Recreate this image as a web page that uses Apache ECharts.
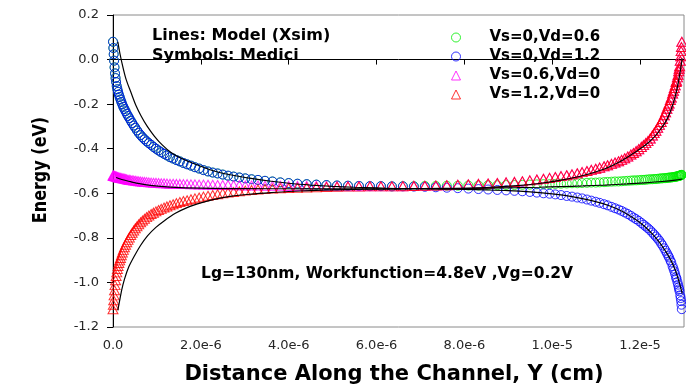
<!DOCTYPE html>
<html>
<head>
<meta charset="utf-8">
<script src="https://cdn.jsdelivr.net/npm/echarts@6/dist/echarts.min.js"></script>
<style>
  html, body { margin: 0; padding: 0; background: #fff; }
  #chart { width: 686px; height: 385px; }
</style>
</head>
<body>
<div id="chart"></div>
<script>
// Positions along the channel are in units of 1e-6 cm; energies in eV.

// Simulation mesh, source half and drain half (refined towards the contacts)
const meshSource = [0, 0.008, 0.016, 0.025, 0.035, 0.046, 0.058, 0.071, 0.085, 0.1,
  0.116, 0.133, 0.151, 0.17, 0.19, 0.212, 0.235, 0.26, 0.286, 0.313,
  0.342, 0.372, 0.404, 0.437, 0.472, 0.508, 0.546, 0.586, 0.628, 0.672,
  0.718, 0.766, 0.816, 0.868, 0.922, 0.978, 1.037, 1.098, 1.162, 1.228,
  1.297, 1.369, 1.444, 1.522, 1.603, 1.687, 1.775, 1.866, 1.961, 2.06,
  2.163, 2.27, 2.382, 2.498, 2.619, 2.745, 2.876, 3.012, 3.154, 3.3,
  3.46, 3.63, 3.81, 4.0, 4.2, 4.41, 4.63, 4.86, 5.1, 5.35,
  5.6, 5.85, 6.1, 6.35];
const meshDrain = [6.6, 6.85, 7.1, 7.35, 7.6, 7.85, 8.09, 8.32, 8.54, 8.75,
  8.95, 9.14, 9.32, 9.49, 9.65, 9.8, 9.94, 10.07, 10.2, 10.33,
  10.45, 10.57, 10.68, 10.79, 10.89, 10.99, 11.08, 11.18, 11.26, 11.35,
  11.43, 11.51, 11.58, 11.65, 11.72, 11.79, 11.85, 11.91, 11.97, 12.03,
  12.08, 12.13, 12.18, 12.23, 12.28, 12.32, 12.36, 12.4, 12.44, 12.48,
  12.51, 12.55, 12.58, 12.61, 12.64, 12.66, 12.69, 12.71, 12.74, 12.76,
  12.78, 12.8, 12.82, 12.83, 12.85, 12.865, 12.88, 12.89, 12.9, 12.915,
  12.925, 12.935, 12.942, 12.95];

// Medici results (symbols)
// Source half with Vs=0 (same for both Vs=0 cases)
const mediciVs0Source = [0.08, 0.052, 0.024, -0.005, -0.035, -0.062, -0.083, -0.101, -0.119, -0.133,
  -0.145, -0.157, -0.168, -0.179, -0.19, -0.201, -0.212, -0.222, -0.232, -0.243,
  -0.253, -0.263, -0.274, -0.285, -0.296, -0.306, -0.318, -0.329, -0.339, -0.349,
  -0.358, -0.367, -0.375, -0.383, -0.392, -0.4, -0.408, -0.416, -0.423, -0.43,
  -0.438, -0.444, -0.451, -0.457, -0.464, -0.47, -0.476, -0.483, -0.489, -0.496,
  -0.502, -0.507, -0.511, -0.516, -0.521, -0.525, -0.529, -0.533, -0.537, -0.54,
  -0.544, -0.547, -0.551, -0.554, -0.557, -0.559, -0.561, -0.563, -0.565, -0.566,
  -0.567, -0.568, -0.568, -0.569];
// Drain half with Vd=1.2
const mediciVd12Drain = [-0.569, -0.57, -0.571, -0.573, -0.575, -0.577, -0.579, -0.581, -0.583, -0.585,
  -0.587, -0.589, -0.591, -0.594, -0.597, -0.6, -0.602, -0.605, -0.608, -0.612,
  -0.615, -0.619, -0.623, -0.628, -0.633, -0.638, -0.643, -0.649, -0.654, -0.661,
  -0.667, -0.673, -0.679, -0.686, -0.693, -0.701, -0.709, -0.716, -0.724, -0.733,
  -0.741, -0.749, -0.757, -0.766, -0.776, -0.785, -0.794, -0.803, -0.813, -0.825,
  -0.834, -0.847, -0.858, -0.869, -0.88, -0.888, -0.901, -0.91, -0.927, -0.938,
  -0.95, -0.963, -0.977, -0.984, -0.998, -1.01, -1.022, -1.031, -1.04, -1.058,
  -1.07, -1.084, -1.1, -1.12];
// Drain half with Vd=0.6
const mediciVd06Drain = [-0.568, -0.568, -0.567, -0.567, -0.566, -0.566, -0.565, -0.565, -0.564, -0.564,
  -0.563, -0.563, -0.562, -0.561, -0.56, -0.559, -0.559, -0.558, -0.557, -0.556,
  -0.555, -0.555, -0.554, -0.553, -0.552, -0.552, -0.551, -0.55, -0.549, -0.548,
  -0.547, -0.547, -0.546, -0.545, -0.544, -0.543, -0.542, -0.542, -0.541, -0.54,
  -0.54, -0.539, -0.538, -0.537, -0.537, -0.536, -0.536, -0.535, -0.534, -0.533,
  -0.533, -0.532, -0.532, -0.531, -0.53, -0.53, -0.529, -0.529, -0.528, -0.527,
  -0.527, -0.526, -0.525, -0.525, -0.524, -0.523, -0.522, -0.522, -0.521, -0.52,
  -0.519, -0.518, -0.518, -0.517];
// Source half with Vs=0.6
const mediciVs06Source = [-0.52, -0.521, -0.521, -0.522, -0.523, -0.524, -0.524, -0.525, -0.526, -0.527,
  -0.528, -0.529, -0.53, -0.531, -0.532, -0.533, -0.534, -0.535, -0.536, -0.537,
  -0.539, -0.54, -0.541, -0.542, -0.543, -0.544, -0.545, -0.546, -0.547, -0.548,
  -0.549, -0.55, -0.551, -0.552, -0.553, -0.553, -0.554, -0.555, -0.555, -0.556,
  -0.557, -0.557, -0.558, -0.558, -0.559, -0.559, -0.56, -0.56, -0.561, -0.561,
  -0.562, -0.562, -0.563, -0.563, -0.563, -0.564, -0.564, -0.565, -0.565, -0.565,
  -0.566, -0.566, -0.566, -0.567, -0.567, -0.567, -0.567, -0.568, -0.568, -0.568,
  -0.568, -0.568, -0.569, -0.569];
// Source half with Vs=1.2
const mediciVs12Source = [-1.12, -1.1, -1.08, -1.058, -1.035, -1.012, -0.99, -0.971, -0.955, -0.94,
  -0.926, -0.913, -0.901, -0.89, -0.878, -0.866, -0.854, -0.842, -0.831, -0.82,
  -0.809, -0.798, -0.787, -0.777, -0.767, -0.757, -0.748, -0.739, -0.73, -0.722,
  -0.714, -0.707, -0.7, -0.693, -0.687, -0.681, -0.675, -0.67, -0.664, -0.659,
  -0.654, -0.649, -0.644, -0.639, -0.635, -0.631, -0.627, -0.623, -0.619, -0.615,
  -0.611, -0.608, -0.604, -0.6, -0.597, -0.594, -0.591, -0.588, -0.585, -0.583,
  -0.581, -0.579, -0.577, -0.576, -0.575, -0.574, -0.573, -0.572, -0.571, -0.57,
  -0.57, -0.569, -0.569, -0.569];
// Drain half with Vd=0 (same for both Vd=0 cases)
const mediciVd0Drain = [-0.568, -0.567, -0.566, -0.565, -0.564, -0.562, -0.56, -0.558, -0.556, -0.554,
  -0.551, -0.549, -0.546, -0.542, -0.538, -0.535, -0.531, -0.527, -0.523, -0.519,
  -0.515, -0.51, -0.505, -0.5, -0.495, -0.49, -0.485, -0.479, -0.474, -0.468,
  -0.462, -0.456, -0.45, -0.443, -0.435, -0.426, -0.419, -0.411, -0.402, -0.392,
  -0.384, -0.375, -0.366, -0.354, -0.341, -0.33, -0.319, -0.306, -0.293, -0.28,
  -0.267, -0.25, -0.236, -0.221, -0.207, -0.197, -0.181, -0.17, -0.152, -0.14,
  -0.128, -0.115, -0.101, -0.095, -0.08, -0.068, -0.052, -0.041, -0.03, -0.005,
  0.015, 0.038, 0.056, 0.08];

// Xsim model (lines), one segment per distinct branch
const modelVs0SourceX = [0.11, 0.16, 0.22, 0.3, 0.41, 0.52, 0.64, 0.78, 0.94, 1.12, 1.32, 1.55, 1.78, 2.3, 2.7, 3.14, 3.6, 4.0, 4.5, 5.0, 5.5, 6.0, 6.5];
const modelVs0SourceY = [0.08, 0.025, -0.029, -0.09, -0.148, -0.205, -0.253, -0.3, -0.343, -0.383, -0.417, -0.443, -0.462, -0.5, -0.518, -0.533, -0.546, -0.555, -0.563, -0.569, -0.573, -0.576, -0.579];
const modelVd12DrainX = [6.5, 7.0, 7.5, 8.0, 8.5, 9.0, 9.5, 10.0, 10.45, 10.9, 11.3, 11.6, 11.9, 12.1, 12.3, 12.45, 12.6, 12.7, 12.8, 12.87, 12.92, 12.96];
const modelVd12DrainY = [-0.579, -0.579, -0.581, -0.583, -0.585, -0.588, -0.594, -0.603, -0.615, -0.633, -0.656, -0.682, -0.718, -0.748, -0.787, -0.823, -0.866, -0.9, -0.944, -0.985, -1.02, -1.05];
const modelVd06DrainX = [6.5, 7.5, 8.5, 9.2, 9.7, 10.2, 10.7, 11.2, 11.7, 12.1, 12.5, 12.8, 12.96];
const modelVd06DrainY = [-0.579, -0.578, -0.577, -0.575, -0.573, -0.57, -0.567, -0.563, -0.558, -0.553, -0.547, -0.541, -0.536];
const modelVs06SourceX = [0.07, 0.2, 0.4, 0.6, 0.9, 1.3, 2.0, 3.0, 4.5, 6.5];
const modelVs06SourceY = [-0.529, -0.538, -0.548, -0.557, -0.566, -0.572, -0.577, -0.579, -0.58, -0.58];
const modelVs12SourceX = [0.11, 0.148, 0.2, 0.26, 0.36, 0.49, 0.63, 0.79, 0.97, 1.17, 1.42, 1.7, 2.0, 2.3, 2.7, 3.14, 3.6, 4.0, 4.5, 5.0, 5.7, 6.5];
const modelVs12SourceY = [-1.125, -1.085, -1.032, -0.986, -0.93, -0.88, -0.833, -0.79, -0.754, -0.723, -0.69, -0.663, -0.643, -0.627, -0.613, -0.604, -0.597, -0.592, -0.588, -0.585, -0.582, -0.58];
const modelVd0DrainX = [6.5, 7.5, 8.5, 9.2, 9.7, 10.2, 10.7, 11.2, 11.6, 11.93, 12.1, 12.27, 12.42, 12.57, 12.67, 12.76, 12.82, 12.87, 12.91, 12.94, 12.96];
const modelVd0DrainY = [-0.58, -0.579, -0.574, -0.566, -0.556, -0.541, -0.52, -0.49, -0.452, -0.41, -0.387, -0.358, -0.325, -0.283, -0.243, -0.193, -0.15, -0.103, -0.058, -0.02, 0.005];

// Legend names and tick labels
const caseNames = ['Vs=0,Vd=0.6', 'Vs=0,Vd=1.2', 'Vs=0.6,Vd=0', 'Vs=1.2,Vd=0'];
const xTickValues = [0, 2, 4, 6, 8, 10, 12];
const xTickLabels = ['0.0', '2.0e-6', '4.0e-6', '6.0e-6', '8.0e-6', '1.0e-5', '1.2e-5'];
const yTickLabels = ['-1.2', '-1.0', '-0.8', '-0.6', '-0.4', '-0.2', '0.0', '0.2'];

const pairs = (xs, ys) => xs.map((x, i) => [x, ys[i]]);
const meshAll = meshSource.concat(meshDrain);

const caseColors = ['#00ee00', '#0000ff', '#ff00ff', '#ff0000'];
const caseSymbols = ['circle', 'circle', 'triangle', 'triangle'];
const caseData = [
  pairs(meshAll, mediciVs0Source.concat(mediciVd06Drain)),
  pairs(meshAll, mediciVs0Source.concat(mediciVd12Drain)),
  pairs(meshAll, mediciVs06Source.concat(mediciVd0Drain)),
  pairs(meshAll, mediciVs12Source.concat(mediciVd0Drain))
];

const font = 'DejaVu Sans';

const symbolSeries = caseNames.map((name, i) => ({
  name: name,
  type: 'scatter',
  data: caseData[i],
  symbol: caseSymbols[i],
  symbolSize: caseSymbols[i] === 'circle' ? 9 : [10, 9],
  clip: false,
  itemStyle: { color: 'transparent', borderColor: caseColors[i], borderWidth: 1 },
  emphasis: { disabled: true },
  z: 2
}));

const modelSegments = [
  [modelVs0SourceX, modelVs0SourceY],
  [modelVd12DrainX, modelVd12DrainY],
  [modelVd06DrainX, modelVd06DrainY],
  [modelVs06SourceX, modelVs06SourceY],
  [modelVs12SourceX, modelVs12SourceY],
  [modelVd0DrainX, modelVd0DrainY]
];
const modelSeries = modelSegments.map(seg => ({
  type: 'line',
  data: pairs(seg[0], seg[1]),
  showSymbol: false,
  smooth: 0.3,
  clip: false,
  lineStyle: { color: '#000', width: 1.2 },
  emphasis: { disabled: true },
  z: 3
}));

const chart = echarts.init(document.getElementById('chart'), null, { renderer: 'canvas' });
chart.setOption({
  animation: false,
  backgroundColor: '#fff',
  grid: { left: 113, right: 2, top: 15, bottom: 58, show: true, borderColor: '#8a8a8a', borderWidth: 1, backgroundColor: 'transparent' },
  xAxis: {
    type: 'value', min: 0, max: 13, interval: 2,
    axisLine: { lineStyle: { color: '#000', width: 1 } },
    axisTick: { show: true, length: 5, lineStyle: { color: '#000' }, customValues: xTickValues },
    axisLabel: {
      customValues: xTickValues,
      margin: 12, fontFamily: font, fontSize: 13, color: '#262626',
      formatter: v => { const k = xTickValues.indexOf(v); return k >= 0 ? xTickLabels[k] : ''; }
    },
    splitLine: { show: false }
  },
  yAxis: {
    type: 'value', min: -1.2, max: 0.2, interval: 0.2,
    axisLine: { show: true, lineStyle: { color: '#000', width: 1 } },
    axisTick: { show: true, length: 6, lineStyle: { color: '#000' } },
    axisLabel: {
      margin: 14, fontFamily: font, fontSize: 13, color: '#262626',
      formatter: v => yTickLabels[Math.round((v + 1.2) / 0.2)]
    },
    splitLine: { show: false }
  },
  legend: {
    orient: 'vertical', left: 451, top: 28, padding: 0, itemGap: 0,
    itemWidth: 9, itemHeight: 9,
    selectedMode: false,
    textStyle: { fontFamily: font, fontWeight: 'bold', fontSize: 15, color: '#000', lineHeight: 19, padding: [0, 0, 0, 24] },
    data: caseNames.map((name, i) => ({
      name: name,
      icon: caseSymbols[i],
      itemStyle: { color: 'transparent', borderColor: caseColors[i], borderWidth: 1 }
    }))
  },
  graphic: [
    { type: 'text', x: 152, y: 36, style: { text: 'Lines: Model (Xsim)', fontFamily: font, fontWeight: 'bold', fontSize: 16, fill: '#000', align: 'left', verticalAlign: 'middle' } },
    { type: 'text', x: 152, y: 56, style: { text: 'Symbols: Medici', fontFamily: font, fontWeight: 'bold', fontSize: 16, fill: '#000', align: 'left', verticalAlign: 'middle' } },
    { type: 'text', x: 201, y: 274, style: { text: 'Lg=130nm, Workfunction=4.8eV ,Vg=0.2V', fontFamily: font, fontWeight: 'bold', fontSize: 15.5, fill: '#000', align: 'left', verticalAlign: 'middle' } },
    { type: 'text', x: 394, y: 375, style: { text: 'Distance Along the Channel, Y (cm)', fontFamily: font, fontWeight: 'bold', fontSize: 21, fill: '#000', align: 'center', verticalAlign: 'middle' } },
    { type: 'text', x: 40.5, y: 170, rotation: Math.PI / 2, scaleY: 1.25, style: { text: 'Energy (eV)', fontFamily: font, fontWeight: 'bold', fontSize: 16, fill: '#000', align: 'center', verticalAlign: 'middle' } }
  ],
  series: symbolSeries.concat(modelSeries)
});
</script>
</body>
</html>
